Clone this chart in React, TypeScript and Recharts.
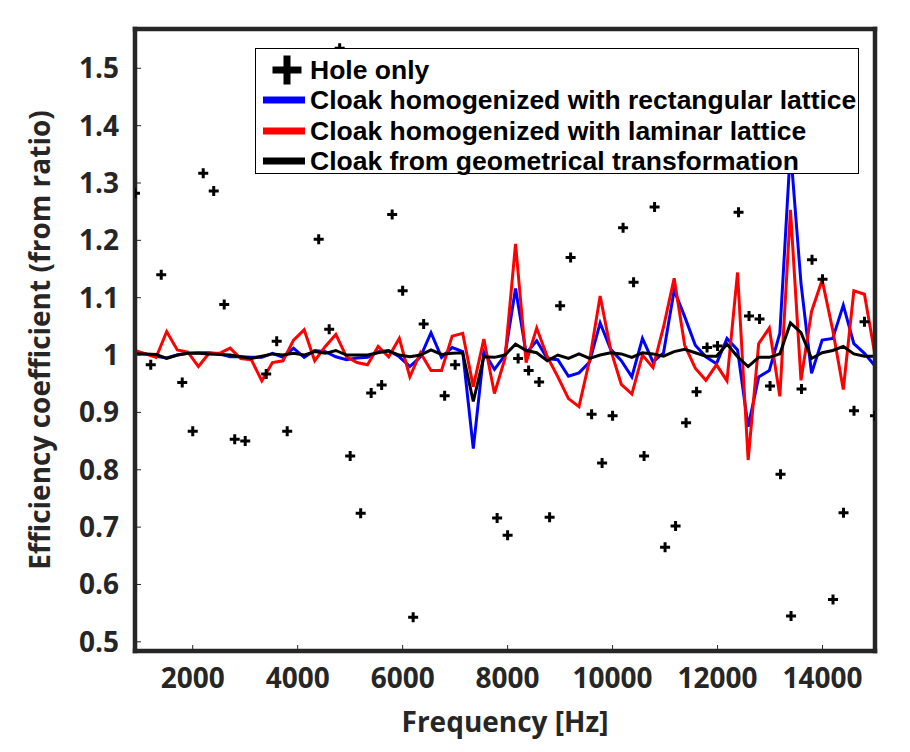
import { ComposedChart, Line, Scatter, XAxis, YAxis, Legend, Label } from 'recharts'

// frequencies of the three cloak curves (Hz)
const cloakFreq = [
  900, 1101, 1303, 1504, 1706, 1907, 2109, 2310, 2511, 2713, 2914, 3116, 3317, 3519, 3720, 3921, 4123, 4324,
  4526, 4727, 4929, 5130, 5331, 5533, 5734, 5936, 6137, 6339, 6540, 6741, 6943, 7144, 7346, 7547, 7749, 7950,
  8151, 8353, 8554, 8756, 8957, 9159, 9360, 9561, 9763, 9964, 10166, 10367, 10569, 10770, 10971, 11173, 11374,
  11576, 11777, 11979, 12180, 12381, 12583, 12784, 12986, 13187, 13389, 13590, 13791, 13993, 14194, 14396,
  14597, 14799, 15000,
]

const rectangular = [
  1.003, 1.002, 0.998, 0.995, 1.0, 1.003, 1.004, 1.004, 1.002, 0.997, 0.997, 0.996, 0.996, 1.003, 0.996, 1.012,
  0.996, 1.008, 1.006, 0.997, 0.992, 0.995, 0.996, 1.006, 1.008, 0.997, 0.98, 0.997, 1.039, 0.996, 1.013, 1.006,
  0.837, 1.006, 0.975, 1.0, 1.116, 1.003, 1.025, 0.994, 0.992, 0.963, 0.969, 0.988, 1.056, 1.01, 0.99, 0.962,
  1.029, 0.988, 1.004, 1.113, 1.067, 1.017, 0.997, 0.985, 1.029, 1.009, 0.875, 0.962, 0.973, 1.038, 1.36, 1.125,
  0.968, 1.026, 1.029, 1.087, 1.02, 1.003, 0.981,
]

const laminar = [
  1.008, 1.002, 0.996, 1.041, 1.009, 1.005, 0.98, 1.003, 1.003, 1.012, 0.994, 0.992, 0.955, 0.987, 0.99, 1.026,
  1.044, 0.99, 1.015, 1.036, 0.997, 0.987, 0.983, 1.015, 0.997, 1.029, 0.962, 1.004, 0.973, 0.973, 1.033, 1.038,
  0.945, 1.028, 0.933, 0.994, 1.194, 0.987, 1.047, 0.997, 0.962, 0.924, 0.91, 0.991, 1.103, 1.009, 0.949, 0.932,
  1.0, 0.978, 1.049, 1.134, 1.017, 0.977, 0.956, 0.983, 0.955, 1.144, 0.817, 1.02, 1.047, 0.928, 1.253, 0.956,
  1.076, 1.131, 1.044, 0.94, 1.112, 1.106, 1.0,
]

const geometrical = [
  1.002, 1.002, 1.001, 0.994, 1.0, 1.003, 1.003, 1.002, 1.001, 1.0, 0.997, 0.994, 0.998, 1.002, 1.0, 1.003, 1.0,
  1.006, 1.003, 1.008, 1.0, 1.0, 1.0, 1.004, 1.007, 1.0, 0.997, 1.0, 1.009, 1.001, 1.003, 1.004, 0.919, 0.997,
  0.996, 1.0, 1.019, 1.008, 1.004, 0.99, 1.0, 0.994, 1.002, 0.994, 1.0, 1.004, 1.002, 0.996, 1.004, 1.002, 0.998,
  1.006, 1.01, 1.004, 0.998, 0.998, 1.019, 0.997, 0.98, 0.996, 0.996, 1.002, 1.056, 1.039, 0.994, 1.004, 1.008,
  1.015, 1.002, 0.998, 0.998,
]

// hole only markers
const holeFreq = [
  900, 1200, 1400, 1800, 2000, 2200, 2400, 2600, 2800, 3000, 3400, 3600, 3800, 4400, 4600, 4800, 5000, 5200, 5400,
  5600, 5800, 6000, 6200, 6400, 6800, 7000, 7800, 8000, 8200, 8400, 8600, 8800, 9000, 9200, 9600, 9800, 10000,
  10200, 10400, 10600, 10800, 11000, 11200, 11400, 11600, 11800, 12000, 12400, 12600, 12800, 13000, 13200, 13400,
  13600, 13800, 14000, 14200, 14400, 14600, 14800, 15000,
]
const holeEff = [
  1.282, 0.983, 1.14, 0.952, 0.867, 1.317, 1.286, 1.088, 0.853, 0.85, 0.967, 1.024, 0.867, 1.202, 1.045, 1.535,
  0.824, 0.724, 0.934, 0.948, 1.245, 1.112, 0.543, 1.054, 0.929, 0.983, 0.716, 0.686, 0.994, 0.973, 0.953, 0.717,
  1.086, 1.17, 0.897, 0.812, 0.894, 1.222, 1.127, 0.824, 1.258, 0.665, 0.702, 0.882, 0.936, 1.013, 1.016, 1.249,
  1.068, 1.063, 0.946, 0.792, 0.545, 0.941, 1.166, 1.132, 0.574, 0.725, 0.903, 1.058, 0.894,
]

const xTicks = [2000, 4000, 6000, 8000, 10000, 12000, 14000]
const yTicks = [0.5, 0.6, 0.7, 0.8, 0.9, 1, 1.1, 1.2, 1.3, 1.4, 1.5]

const legendItems = [
  { label: 'Hole only', color: '#000000', marker: true },
  { label: 'Cloak homogenized with rectangular lattice', color: '#0000ff', marker: false },
  { label: 'Cloak homogenized with laminar lattice', color: '#ff0000', marker: false },
  { label: 'Cloak from geometrical transformation', color: '#000000', marker: false },
]

const cloakData = cloakFreq.map((f, i) => ({
  freq: f,
  rect: rectangular[i],
  lam: laminar[i],
  geo: geometrical[i],
}))
const holeData = holeFreq.map((f, i) => ({ freq: f, eff: holeEff[i] }))

const AXIS_COLOR = '#262626'
const axisFont = '"Open Sans", "Noto Sans", sans-serif'
const tickStyle = { fontSize: 28, fontWeight: 700, fill: AXIS_COLOR, fontFamily: axisFont }
const axisLine = { stroke: AXIS_COLOR, strokeWidth: 4.5, strokeLinecap: 'square' as const }
const tickLine = { stroke: AXIS_COLOR, strokeWidth: 1 }

const PlusMarker = (props: any) => {
  const { cx, cy } = props
  if (cx == null || cy == null) return null
  return <path d={`M${cx - 5},${cy}H${cx + 5}M${cx},${cy - 5}V${cy + 5}`} stroke="#000" strokeWidth={3} fill="none" />
}

const LegendBox = () => (
  <div
    style={{
      boxSizing: 'border-box',
      width: 604,
      height: 126,
      border: '1px solid #000',
      background: '#fff',
      paddingTop: 6,
      fontFamily: '"Liberation Sans", Arial, sans-serif',
      fontWeight: 700,
      fontSize: 26.5,
      lineHeight: '30.3px',
      color: '#000',
    }}
  >
    {legendItems.map((item) => (
      <div key={item.label} style={{ display: 'flex', alignItems: 'center', height: 30.3, whiteSpace: 'nowrap' }}>
        <svg width={54} height={30} style={{ flex: 'none' }}>
          {item.marker ? (
            <path d="M16.5,15H45.5M31,0.5V29.5" stroke={item.color} strokeWidth={7} />
          ) : (
            <line x1={7} y1={15} x2={49} y2={15} stroke={item.color} strokeWidth={7} />
          )}
        </svg>
        <span>{item.label}</span>
      </div>
    ))}
  </div>
)

export default function App() {
  return (
    <div style={{ position: 'absolute', left: 0, top: 0, width: 910, height: 752, background: '#fff' }}>
      <ComposedChart width={910} height={752} margin={{ top: 28, right: 34, bottom: 100, left: 134 }}>
        <XAxis
          xAxisId="b"
          dataKey="freq"
          type="number"
          domain={[900, 15000]}
          allowDataOverflow
          ticks={xTicks}
          height={1}
          tickSize={-6}
          tickMargin={23}
          tick={tickStyle}
          axisLine={axisLine}
          tickLine={tickLine}
        >
          <Label
            content={() => (
              <text
                x={505}
                y={732}
                textAnchor="middle"
                fontSize={28}
                fontWeight={700}
                fill={AXIS_COLOR}
                fontFamily={axisFont}
              >
                Frequency [Hz]
              </text>
            )}
          />
        </XAxis>
        <XAxis
          xAxisId="t"
          orientation="top"
          dataKey="freq"
          type="number"
          domain={[900, 15000]}
          allowDataOverflow
          ticks={xTicks}
          height={1}
          tickSize={-6}
          tick={false}
          axisLine={axisLine}
          tickLine={tickLine}
        />
        <YAxis
          yAxisId="l"
          type="number"
          domain={[0.484, 1.5685]}
          allowDataOverflow
          ticks={yTicks}
          width={1}
          tickSize={-6}
          tickMargin={22}
          tick={tickStyle}
          tickFormatter={(v: number) => (v === 1 ? '1' : v.toFixed(1))}
          axisLine={axisLine}
          tickLine={tickLine}
        >
          <Label
            content={() => (
              <text
                transform="translate(50,340) rotate(-90)"
                textAnchor="middle"
                fontSize={28}
                fontWeight={700}
                fill={AXIS_COLOR}
                fontFamily={axisFont}
              >
                Efficiency coefficient (from ratio)
              </text>
            )}
          />
        </YAxis>
        <YAxis
          yAxisId="r"
          orientation="right"
          type="number"
          domain={[0.484, 1.5685]}
          allowDataOverflow
          ticks={yTicks}
          width={1}
          tickSize={-6}
          tick={false}
          axisLine={axisLine}
          tickLine={tickLine}
        />
        <Scatter
          name="Hole only"
          data={holeData}
          dataKey="eff"
          xAxisId="b"
          yAxisId="l"
          shape={PlusMarker}
          isAnimationActive={false}
        />
        <Line
          name="Cloak homogenized with rectangular lattice"
          data={cloakData}
          dataKey="rect"
          xAxisId="b"
          yAxisId="l"
          stroke="#0000ff"
          strokeWidth={3}
          dot={false}
          activeDot={false}
          isAnimationActive={false}
        />
        <Line
          name="Cloak homogenized with laminar lattice"
          data={cloakData}
          dataKey="lam"
          xAxisId="b"
          yAxisId="l"
          stroke="#ff0000"
          strokeWidth={3}
          dot={false}
          activeDot={false}
          isAnimationActive={false}
        />
        <Line
          name="Cloak from geometrical transformation"
          data={cloakData}
          dataKey="geo"
          xAxisId="b"
          yAxisId="l"
          stroke="#000000"
          strokeWidth={3}
          dot={false}
          activeDot={false}
          isAnimationActive={false}
        />
        <Legend
          layout="vertical"
          align="center"
          verticalAlign="middle"
          content={() => <LegendBox />}
          wrapperStyle={{ left: 255, top: 48, width: 604, height: 126 }}
        />
      </ComposedChart>
    </div>
  )
}
